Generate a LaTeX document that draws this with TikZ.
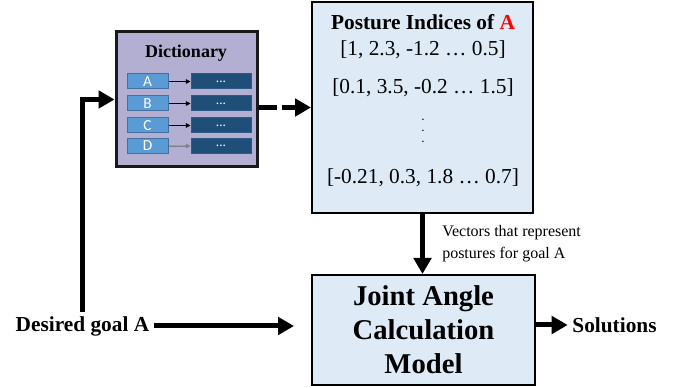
\documentclass[tikz,border=0pt]{standalone}
\usepackage{fontspec}
\setmainfont{Liberation Serif}
\newfontfamily\keyfont{Carlito}
\usetikzlibrary{arrows.meta}
\definecolor{dictfill}{HTML}{B3AFD3}
\definecolor{boxfill}{HTML}{DEEBF7}
\definecolor{keyfill}{HTML}{5B9BD5}
\definecolor{keydraw}{HTML}{41719C}
\definecolor{valfill}{HTML}{1F4E79}
\definecolor{valdraw}{HTML}{2E5A88}
\definecolor{redA}{HTML}{FF0000}
\begin{document}
\begin{tikzpicture}[x=0.75pt,y=-0.75pt,
  bigarrow/.style={line width=3.75pt,-{Triangle[length=12pt,width=13pt]}},
  smallarrow/.style={line width=0.6pt,-{Triangle[length=3.5pt,width=3.5pt]}},
  keybox/.style={draw=keydraw,fill=keyfill,line width=0.75pt,minimum width=30.75pt,minimum height=11.25pt,inner sep=0pt,text=white,font=\keyfont\fontsize{11.5}{12}\selectfont},
  valbox/.style={draw=valdraw,fill=valfill,line width=0.75pt,minimum width=45pt,minimum height=11.25pt,inner sep=0pt,text=white,font=\keyfont\fontsize{10}{10}\selectfont},
  bigbox/.style={draw=black,fill=boxfill,line width=1.5pt,inner sep=0pt},
  rowtext/.style={font=\fontsize{16}{19}\selectfont},
  dottext/.style={font=\bfseries\fontsize{7}{8}\selectfont,inner sep=0pt},
  labeltext/.style={font=\bfseries\fontsize{16}{19}\selectfont}
]
\useasboundingbox (0,0) rectangle (683,388);

% Dictionary
\node[draw=black!90,fill=dictfill,line width=2.25pt,minimum width=105.75pt,minimum height=101.25pt,inner sep=0pt] (dict) at (186.5,99.5) {};
\node[font=\bfseries\fontsize{13.5}{16}\selectfont] (dicttitle) at (186,53) {Dictionary};
\node[keybox] (ka) at (147.5,81.5) {A};
\node[keybox] (kb) at (147.5,103.5) {B};
\node[keybox] (kc) at (147.5,125.5) {C};
\node[keybox] (kd) at (147.5,146) {D};
\node[valbox] (va) at (221,81.5) {...};
\node[valbox] (vb) at (221,103.5) {...};
\node[valbox] (vc) at (221,125.5) {...};
\node[valbox] (vd) at (221,146) {...};
\draw[smallarrow] (ka) -- (va);
\draw[smallarrow] (kb) -- (vb);
\draw[smallarrow] (kc) -- (vc);
\draw[smallarrow,draw=gray,fill=black] (kd) -- (vd);

% Posture indices
\node[bigbox,minimum width=165.75pt,minimum height=158.25pt] (posture) at (422.5,107.5) {};
\node[labeltext] (ptitle) at (423,22) {Posture Indices of \textcolor{redA}{A}};
\node[rowtext] (row1) at (423,50) {[1, 2.3, -1.2 … 0.5]};
\node[rowtext] (row2) at (423,88) {[0.1, 3.5, -0.2 … 1.5]};
\node[dottext] (dot1) at (423,120) {.};
\node[dottext] (dot2) at (423,131) {.};
\node[dottext] (dot3) at (423,142) {.};
\node[rowtext] (row3) at (423,178) {[-0.21, 0.3, 1.8 … 0.7]};

% Joint angle model
\node[bigbox,minimum width=167.25pt,minimum height=82.5pt,align=center,font=\bfseries\fontsize{21.5}{25.5}\selectfont] (joint) at (423.5,330) {Joint Angle\\Calculation\\Model};

\node[anchor=west,align=left,inner sep=0pt,font=\fontsize{12}{16.5}\selectfont] (vec) at (442,244) {Vectors that represent\\postures for goal A};

\node[labeltext] (goal) at (82.5,326) {Desired goal A};
\node[labeltext] (sol) at (614.5,325) {Solutions};

% Connectors
\draw[bigarrow] (goal.north) |- (dict.west);
\draw[bigarrow,shorten >=12.75pt] (goal.east) -- (goal.east -| joint.west);
\draw[bigarrow,dash pattern=on 13.5pt off 3.75pt] (dict.east |- posture.west) -- (posture.west);
\draw[bigarrow] (posture.south) -- (posture.south |- joint.north);
\draw[bigarrow] (joint.east |- sol.west) -- (sol.west);
\end{tikzpicture}
\end{document}
